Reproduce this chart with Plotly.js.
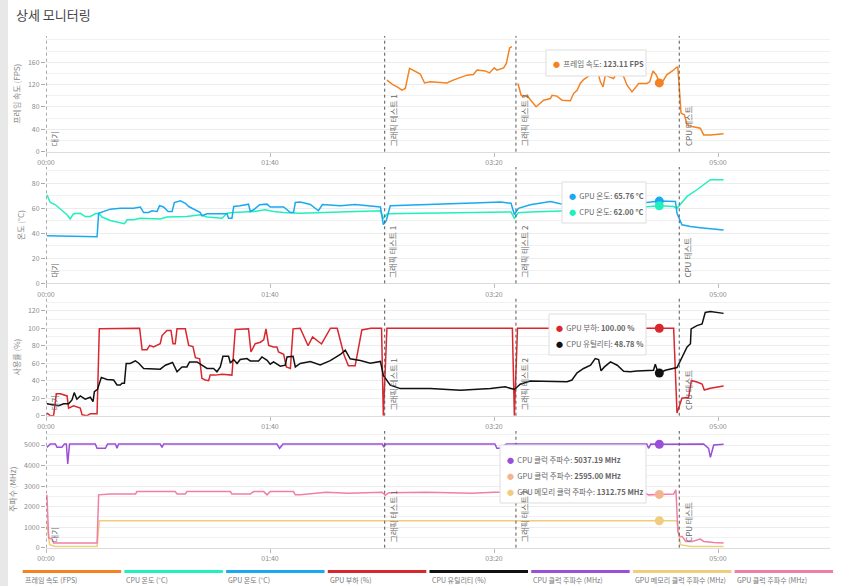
<!DOCTYPE html>
<html><head><meta charset="utf-8">
<script src="https://cdn.plot.ly/plotly-3.0.1.min.js"></script>
<style>html,body{margin:0;padding:0;background:#fff;}#chart{width:850px;height:586px;}</style>
</head><body><div id="chart"></div>
<script>
// ---- axis / category data ----
const timeTickVals = [0, 100, 200, 300];
const timeTickText = ['00:00', '01:40', '03:20', '05:00'];
const eventTimes = [0, 151.2, 209.8, 282.7];
const eventLabels = ['대기', '그래픽 테스트 1', '그래픽 테스트 2', 'CPU 테스트'];
const panelTitles = ['프레임 속도 (FPS)', '온도 (°C)', '사용률 (%)', '주파수 (MHz)'];
const fpsTicks = [0, 40, 80, 120, 160];
const tempTicks = [0, 20, 40, 60, 80];
const pctTicks = [0, 20, 40, 60, 80, 100, 120];
const mhzTicks = [0, 1000, 2000, 3000, 4000, 5000];
const seriesNames = ['프레임 속도 (FPS)', 'CPU 온도 (°C)', 'GPU 온도 (°C)', 'GPU 부하 (%)', 'CPU 유틸리티 (%)', 'CPU 클럭 주파수 (MHz)', 'GPU 메모리 클럭 주파수 (MHz)', 'GPU 클럭 주파수 (MHz)'];

// ---- series data (time in seconds) ----
const fpsT = [152.2,154.8,156.8,158.9,160.4,162.3,167.1,169.0,171.6,179.0,181.8,187.9,190.8,192.4,196.1,198.0,200.1,201.3,204.3,205.5,207.0,208.0,209.0,210.7,212.1,213.5,214.7,216.2,218.8,222.2,225.2,225.9,228.1,230.4,234.1,235.5,237.1,238.5,240.0,241.8,242.3,243.9,245.2,246.7,247.5,248.7,249.7,252.0,253.4,254.6,256.4,257.9,259.4,261.6,264.6,268.3,269.5,271.0,272.5,273.9,275.7,277.2,279.5,281.7,282.1,283.5,285.0,286.2,288.4,292.1,293.6,296.6,302.5];
const fpsV = [128,120,116,110,113,149,139,123,125,123,128,137,138,146,144.5,141,150,146,150,158,186,188,null,122,101,98,101,93,80.5,92,95,101,99.5,92,91,104,110,122,129,134,140,165,150,137,125,116,137,133,131,140,150,134,119,107,122,122,125,144.5,137,123,128,138,144,151.6,150,69,66,48,45,42,30,30,32];

const cpuTempT = [0.4,1.9,4.2,6.4,9.4,10.8,12.3,15.3,17.5,19.8,22.0,23.5,25.0,28.7,33.2,35.0,36.2,39.1,42.1,46.6,51.0,54.0,57.0,62.9,68.9,71.9,78.6,80.8,83.8,92.7,97.9,101.6,106.1,113.5,131.4,149.3,150.6,152.4,167,185,203,207.6,209.1,210.9,216.2,234.1,256.4,273.8,280.2,281.7,286.2,290.6,293.6,296.6,302.5];
const cpuTempV = [70.8,64.6,62.8,59.4,54.8,51.4,55.6,56,53.4,53.4,55.6,56,53,50.2,48,47.6,50.8,50.8,52,51.4,51.4,53,53,53.4,54.8,53,52,56,56.6,57.4,58.8,57.4,56.6,56,57,58,52,55.6,56,56.5,57,57,52,56.5,57,58,59.5,62,61.4,60,69.5,74.8,78.8,82.8,82.8];

const gpuTempT = [0.4,10,22.8,23.5,25.7,28.7,33.2,39.1,42.1,43.6,45.8,47.3,49.6,50.7,52.5,54.5,56.3,57.3,60.0,62.2,63.7,65.9,68.9,69.6,71.9,80.8,81.5,83.0,83.8,86.7,90.4,91.2,92.7,95.4,98.7,100.1,106.1,109.1,110.5,111.3,113.5,118,121.6,123.4,131.4,138,144.8,149.3,150.6,151.9,153.7,167,180.6,194,203,207.6,209.1,210.9,216.2,225.2,229.6,238.5,247.5,256.4,265.3,273.8,281,281.7,283.9,287.7,292.1,302.5];
const gpuTempV = [38,37.5,37.2,56,57.4,59.3,60,60,61,56.6,56.6,58,57.5,62,61,57.4,57.4,64.6,66,64,61.4,59.3,56.6,54,55.6,55.6,52,52,61.4,62,63.3,57.4,58.8,62.8,63.3,61,61,56.6,56.6,64.6,65,63,58,63,62,63,62,61,47,50,62,63,64,64.5,65,64,55,60,62.8,65.4,63.6,63,64,63.5,64,65.76,65.4,56,46.8,45.4,44.5,42.7];

const gpuLoadT = [0.4,1.9,3.4,4.6,6.4,9.4,10.1,12.3,15.3,16.1,18.3,19.8,22.8,23.8,41.8,42.9,45.1,46.3,48.0,51.0,51.8,54.0,55.8,56.7,57.7,58.5,62.2,63.7,65.6,66.7,68.6,69.6,71.1,72.6,73.3,75.6,78.6,83.0,84.5,90.4,91.5,93.4,95.7,97.2,98.2,99.4,101.6,103.1,103.8,106.1,107.3,109.1,110.3,113.5,117,119,123,127,130,133,135,138,141,145,149.8,150.6,152.2,208.2,209.1,210.5,280.2,281.7,283.9,286.9,288.1,290.3,292.9,293.9,296.6,302.5];
const gpuLoadV = [3,0,0,25,25,22.6,8.7,11.3,8.7,1,0,2.3,2.3,99.3,100,75.5,75.5,80.4,78.5,82.3,91.7,97.4,97.4,82.3,82.3,99.3,99.3,80.4,79,66.4,65,42.7,40.8,40,46.4,46.4,47.5,46.4,98.5,99.3,72.8,82.3,84,86.8,99.3,80.4,78.5,78.5,72.8,70.2,55.8,54,99.3,100,80,90,82,100,100,70,57,57,98,100,100,0,100,100,0,100,100,3,20,21,40,38.8,36.2,29.4,31.3,34];

const cpuUtilT = [0.4,3.4,5.6,7.9,10.1,11.6,12.6,13.8,15.3,17.5,19.8,21.0,21.6,23.0,24.7,27.2,30.2,31.7,33.2,33.9,35.0,35.8,37.6,39.9,41.3,43.6,51.0,53.3,56.5,58.5,60.7,62.9,64.1,67.4,69.6,71.9,74.8,76.3,77.8,79.0,81.5,82.3,83.8,85.3,86.7,89.7,91.2,94.9,96.4,98.7,100.1,101.6,104.6,106.8,107.6,110.3,111.3,113.5,118,122.4,126.9,131.4,133.6,135.8,140.3,144.8,149.3,150.6,153.7,158.2,171.6,185,198.4,205,209.1,211.7,216.2,232.6,234.8,237.1,240,243.1,245.2,246.7,247.8,249.3,252,255,257.9,260.8,263.8,271.2,272,272.9,273.8,276.5,281.7,283.2,286.2,287.7,288,290.6,292.9,294.3,296.6,302.5];
const cpuUtilV = [13.6,12.5,11.3,13.6,13.6,18,26.4,18.9,22.6,18.9,21.1,16.2,27.5,30.2,43.8,41.5,40.8,35.1,35.1,37,37,59.7,59.7,62.6,60.3,54,53.2,57.7,60.8,50.2,55.8,55.8,61.5,61.5,57.7,54,54,50.2,55.8,68,68,60.3,64.2,59.7,64.2,65.3,62.6,62.6,67.2,63.4,58.9,61.5,56.6,57.7,67.2,68,55.8,59.7,62,58,63,70,75,65,63,60,62,46,35,31,31,29,31,33,30,36,39.6,38.8,40.8,49,54,57.7,65.3,64.2,51.3,55.8,61.5,57.7,50.9,50.2,51,52,58.9,52,48.78,52,55,63.4,78.5,82.3,99.3,103,105,118,119,117];

const cpuClockT = [0.4,1.9,4.2,4.9,7.1,8.2,9.1,9.7,10.5,22.0,22.8,26.5,27.5,31.0,31.7,32.4,51.0,51.8,52.5,103.1,104.3,105.8,150.2,150.8,151.6,200.4,201.3,202.8,205.5,268.2,269.0,270.0,273.8,293.6,295.8,296.6,298.1,302.5];
const cpuClockV = [4888,5049,5049,4888,4888,5049,5049,4078,5049,5049,4840,4840,5049,5049,4840,5049,5049,4888,5049,5049,4840,5049,5049,4900,5049,5049,4840,4840,5049,5049,4840,5049,5037.19,5049,4840,4403,5000,5040];

const gpuClockT = [0.4,1.2,2.7,3.4,22.8,23.5,28.7,40.0,40.6,57.7,58.5,62.2,62.9,82.3,83.0,91.2,92.7,97.2,98.7,100.1,110.5,111.3,113.5,125,135,150,151.5,153,170,190,200,209.5,211,225,240,255,266,269.0,273.8,280.2,281.2,282.1,282.8,284.0,285.6,288.4,292.1,293.6,298.1,302.5];
const gpuClockV = [2573,471,422,228,228,2573,2621,2621,2733,2733,2621,2621,2733,2733,2621,2621,2733,2733,2573,2733,2733,2573,2573,2700,2650,2700,2550,2680,2700,2650,2700,2700,2550,2650,2700,2680,2733,2573,2595,2620,2815,791,549,549,306,306,422,306,257,228];

const gpuMemT = [0.4,1.6,4.2,22.8,23.8,281.7,283.2,287.7,302.5];
const gpuMemV = [1277,146,63,63,1312.75,1312.75,146,63,63];

// hover snapshot
const hoverTime = 273.8;
const hoverLabels = ['프레임 속도', 'GPU 온도', 'CPU 온도', 'GPU 부하', 'CPU 유틸리티', 'CPU 클럭 주파수', 'GPU 클럭 주파수', 'GPU 메모리 클럭 주파수'];
const hoverValues = [123.11, 65.76, 62.00, 100.00, 48.78, 5037.19, 2595.00, 1312.75];
const hoverUnits = ['FPS', '°C', '°C', '%', '%', 'MHz', 'MHz', 'MHz'];

// ---- styles ----
const C = {fps:'#f58220', cpuT:'#1ff0bd', gpuT:'#1aa9f0', load:'#d9272e', util:'#111111', cclk:'#9b4fd8', mem:'#f0cd7c', gclk:'#f07fa8', gclkDot:'#f3b48f'};
const legendColors = [C.fps, C.cpuT, C.gpuT, C.load, C.util, C.cclk, C.mem, C.gclk];
const hoverColors = [C.fps, C.gpuT, C.cpuT, C.load, C.util, C.cclk, C.gclkDot, C.mem];
const hoverPanels = [1,2,2,3,3,4,4,4];

const W=850, H=586, ML=46, MR=20, MT=36, MB=38;
const PW=W-ML-MR, PH=H-MT-MB;
const px = x => (x-ML)/PW;
const py = y => (H-MB-y)/PH;
const panelPx = [[36,151.7],[167,283.3],[298.5,415.7],[431,547.7]];
const yRanges = [[0,207],[0,93],[0,134],[0,5684]];
const yTicks = [fpsTicks, tempTicks, pctTicks, mhzTicks];
const yMinor = [20,10,10,500];
const FONT = '"Noto Sans CJK KR", "Noto Sans", sans-serif';

function line(x, y, color, panel, w) {
  return {x, y, type:'scatter', mode:'lines', line:{color, width:w||1.5}, xaxis: panel===1?'x':'x'+panel, yaxis: panel===1?'y':'y'+panel, hoverinfo:'skip', showlegend:false, connectgaps:false};
}
const traces = [
  line(fpsT, fpsV, C.fps, 1),
  line(cpuTempT, cpuTempV, C.cpuT, 2),
  line(gpuTempT, gpuTempV, C.gpuT, 2),
  line(gpuLoadT, gpuLoadV, C.load, 3),
  line(cpuUtilT, cpuUtilV, C.util, 3),
  line(gpuMemT, gpuMemV, C.mem, 4),
  line(gpuClockT, gpuClockV, C.gclk, 4),
  line(cpuClockT, cpuClockV, C.cclk, 4),
];
hoverValues.forEach((v,i) => {
  const p = hoverPanels[i];
  traces.push({x:[hoverTime], y:[v], type:'scatter', mode:'markers', marker:{color:hoverColors[i], size:9},
    xaxis: p===1?'x':'x'+p, yaxis: p===1?'y':'y'+p, hoverinfo:'skip', showlegend:false});
});

const layout = {
  width:W, height:H, margin:{l:ML, r:MR, t:MT, b:MB},
  paper_bgcolor:'#fff', plot_bgcolor:'#fff',
  font:{family:FONT, color:'#888', size:8},
  showlegend:false,
  title:{text:'상세 모니터링', font:{family:FONT, size:13, color:'#444'}, xref:'container', yref:'container', x:16/W, xanchor:'left', y:1-15/H, yanchor:'middle'},
  shapes:[], annotations:[]
};

for (let i=0;i<4;i++) {
  const n = i===0?'':String(i+1);
  const [top,bot] = panelPx[i];
  layout['xaxis'+n] = {domain:[0,1], range:[0,350], anchor:'y'+n, tickvals:timeTickVals, ticktext:timeTickText,
    showgrid:false, zeroline:false, showline:true, linecolor:'#dcdcdc', linewidth:1, ticks:'outside', ticklen:4, tickcolor:'#bbb',
    tickfont:{size:7, color:'#8a8a8a'}, fixedrange:true};
  layout['yaxis'+n] = {domain:[py(bot), py(top)], range:yRanges[i], anchor:'x'+n, tickvals:yTicks[i],
    showgrid:true, gridcolor:'#ececec', gridwidth:1, zeroline:false, showline:false,
    minor:{dtick:yMinor[i], tick0:0, showgrid:true, gridcolor:'#f1f1f1', gridwidth:1, ticks:''},
    ticks:'outside', ticklen:4, tickcolor:'#aaa', tickfont:{size:7, color:'#8a8a8a'},
    title:{text:panelTitles[i], font:{size:8, color:'#888'}, standoff:6}, fixedrange:true};
  eventTimes.forEach((t,k) => {
    layout.shapes.push({type:'line', xref:'x'+n, yref:'y'+n+' domain', x0:t, x1:t, y0:0, y1:1,
      line:{color:'#555', width:1, dash:'dot'}});
    layout.annotations.push({x:t, y:0.03, xref:'x'+n, yref:'y'+n+' domain', text:eventLabels[k], showarrow:false,
      textangle:-90, xanchor:'left', yanchor:'bottom', xshift:1, font:{size:8, color:'#666'}});
  });
}

// left gray strip
layout.shapes.push({type:'rect', xref:'paper', yref:'paper', x0:px(0), x1:px(8), y0:py(H), y1:py(0), fillcolor:'#e8e8e8', line:{width:0}, layer:'below'});

// tooltips
const tooltips = [
  {box:[546,50,646,76], dotX:554, rows:[0], rowY:[63]},
  {box:[562,182,646,223], dotX:570, rows:[1,2], rowY:[195,211]},
  {box:[549,314,646,355], dotX:557, rows:[3,4], rowY:[327,343]},
  {box:[500,445,646,503], dotX:508, rows:[5,6,7], rowY:[459,475,491]},
];
tooltips.forEach(tt => {
  const [x0,y0,x1,y1] = tt.box;
  layout.shapes.push({type:'rect', xref:'paper', yref:'paper', x0:px(x0), x1:px(x1), y0:py(y1), y1:py(y0),
    fillcolor:'rgba(255,255,255,0.97)', line:{color:'#dddddd', width:1}, layer:'above'});
  tt.rows.forEach((r,j) => {
    layout.annotations.push({xref:'paper', yref:'paper', x:px(tt.dotX-3), y:py(tt.rowY[j]), xanchor:'left', yanchor:'middle', showarrow:false,
      text:'<span style="color:'+hoverColors[r]+';font-size:7px">●</span>  '+hoverLabels[r]+': <b>'+hoverValues[r].toFixed(2)+' '+hoverUnits[r]+'</b>',
      font:{size:7.5, color:'#666'}});
  });
});

// custom legend
seriesNames.forEach((nm,i) => {
  const x0 = 22.7 + 101.7*i;
  layout.shapes.push({type:'rect', xref:'paper', yref:'paper', x0:px(x0), x1:px(x0+98.5), y0:py(573), y1:py(570), fillcolor:legendColors[i], line:{width:0}});
  layout.annotations.push({xref:'paper', yref:'paper', x:px(x0), y:py(580), xanchor:'left', yanchor:'middle', showarrow:false,
    text:nm, font:{size:7, color:'#777'}});
});

Plotly.newPlot('chart', traces, layout, {displayModeBar:false, staticPlot:true});
</script>
</body></html>
